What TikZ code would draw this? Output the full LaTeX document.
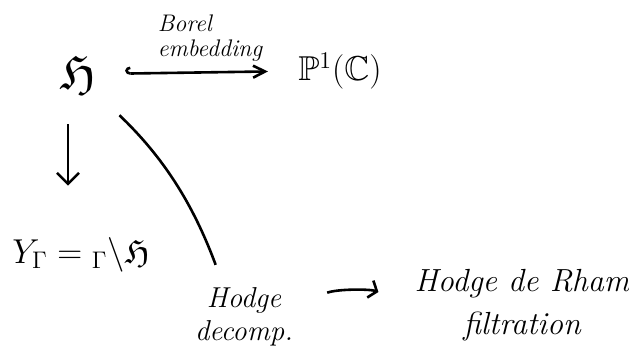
\documentclass[tikz,border=0pt]{standalone}
\usepackage{amsmath,amssymb}
\usepackage{tikz}
\usetikzlibrary{arrows.meta}

\begin{document}
\begin{tikzpicture}[
  x=0.5pt, y=-0.5pt,
  tx/.style={inner sep=0pt, align=center},
  ar/.style={-{Straight Barb[length=5.5pt,width=11pt]}, line width=1.3pt},
  hk/.style={{Hooks[right,length=2.5pt,width=7pt]}-{Straight Barb[length=6pt,width=6pt]}, line width=1.3pt},
  ln/.style={line width=1.3pt}
]
\useasboundingbox (0,0) rectangle (629,361);
% spaces
\node[tx, font=\fontsize{24.88}{25}\selectfont] (half) at (78,74) {$\mathfrak{H}$};
\node[tx, font=\fontsize{17.28}{18}\selectfont] (proj) at (340,71) {$\mathbb{P}^1(\mathbb{C})$};
\node[tx, anchor=base west, font=\fontsize{17.28}{18}\selectfont] (quot) at (12,263)
  {$Y_\Gamma = {}_\Gamma\backslash\mathfrak{H}$};
\node[tx, align=left, font=\fontsize{12}{12.5}\selectfont\itshape] (borel) at (210,38)
  {Borel\\embedding};
% Hodge theory
\node[tx, font=\fontsize{14.4}{16.5}\selectfont\itshape] (hodge) at (244,317) {Hodge\\decomp.};
\node[tx, font=\fontsize{16}{21.5}\selectfont\itshape] (hdr) at (522,305) {Hodge de Rham\\filtration};
% arrows
\draw[hk, shorten <=14.5pt, shorten >=15pt] (half.east) -- (proj.west);
\draw[ar, shorten <=15.5pt, shorten >=25.5pt] ([xshift=-5pt]half.south) -- ([xshift=-5pt]half.south |- quot.north);
\draw[ln, shorten <=16pt, shorten >=12pt] (half.south east) to[bend left=13] ([xshift=-10pt]hodge.north);
\draw[line width=1.3pt, -{Straight Barb[length=3.5pt,width=9pt]}, shorten <=18pt, shorten >=19pt]
  (hodge.east |- hdr.west) to[bend left=20] (hdr.west);
\end{tikzpicture}
\end{document}
